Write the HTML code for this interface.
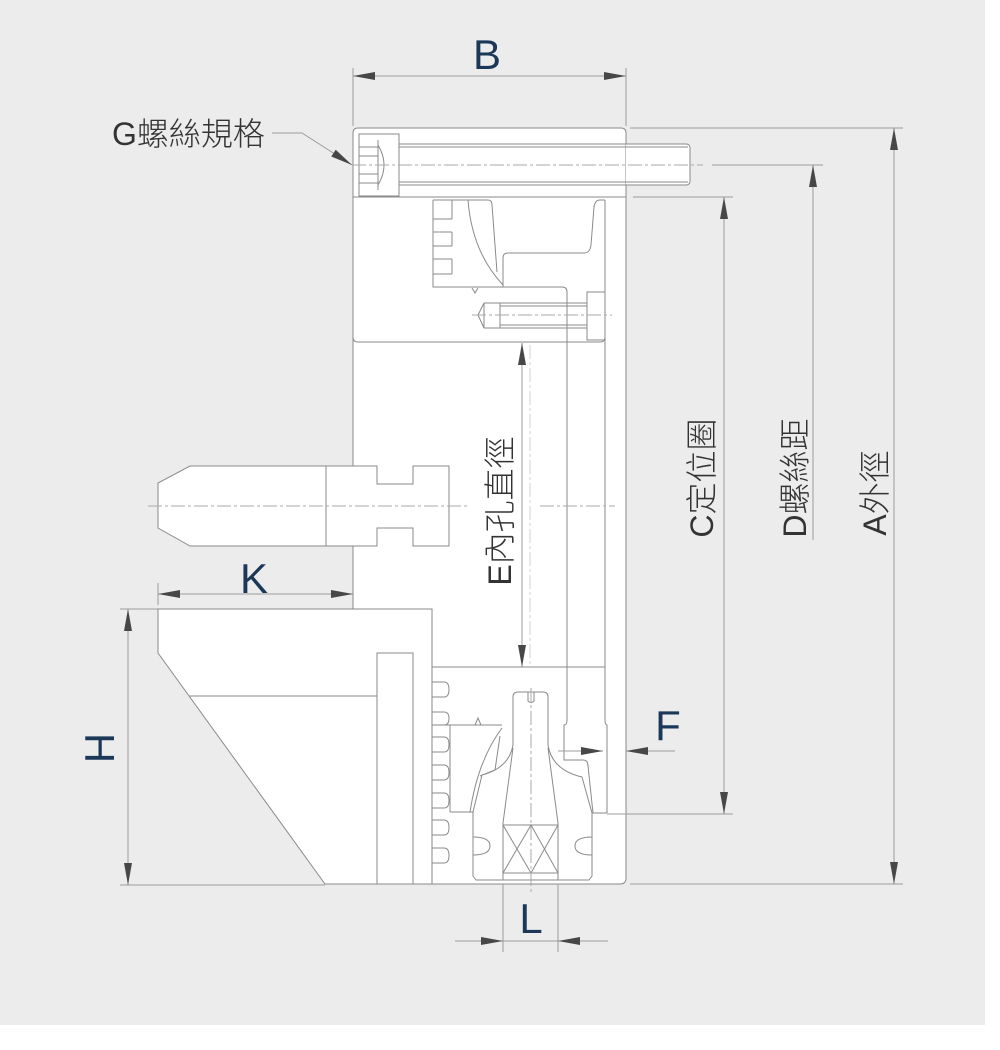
<!DOCTYPE html>
<html><head><meta charset="utf-8"><style>
html,body{margin:0;padding:0;background:#fff;}
svg{display:block;}
.o{fill:none;stroke:#8a8a8a;stroke-width:1}
.w{fill:#fff;stroke:#8a8a8a;stroke-width:1}
.d{fill:none;stroke:#9c9c9c;stroke-width:1}
.c{fill:none;stroke:#aaaaaa;stroke-width:1;stroke-dasharray:14 3 3 3}
.a{fill:#474747}
.lt{font-family:"Liberation Sans",sans-serif;font-size:42px;fill:#1b3858}
.zh{font-family:"Liberation Sans","Noto Sans CJK TC",sans-serif;font-size:32px;font-weight:300;fill:#333}
</style></head><body>
<svg width="1000" height="1050" viewBox="0 0 1000 1050" xmlns="http://www.w3.org/2000/svg">
<rect width="1000" height="1050" fill="#fff"/>
<rect x="0" y="0" width="985" height="1025" fill="#ececec"/>

<!-- main body -->
<path class="w" d="M358,128 H621 Q626,128 626,133 V878 Q626,884 620,884 H358 Q353,884 353,878 V133 Q353,128 358,128 Z"/>
<line class="o" x1="353" y1="197" x2="626" y2="197"/>

<!-- top bolt -->
<rect x="626" y="144" width="64" height="41" fill="#fff"/>
<rect class="o" x="359" y="134" width="40" height="62"/>
<path class="o" d="M359,147 H378 M359,156 H378 M359,174 H378 M359,183 H378 M378,145 Q390,165 378,185 M378,140 V190"/>
<path class="o" d="M399,144 H686 Q690,144 690,148 V181 Q690,185 686,185 H399 M399,147 H688 M399,182 H688"/>
<line class="c" x1="352" y1="165" x2="703" y2="165"/>

<!-- upper jaw block -->
<path class="o" d="M433,200 H488 Q492,200 492,205 L497,272"/>
<path class="o" d="M468,200 Q472,252 503,285"/>
<path class="o" d="M503,287 V258 Q503,253 508,253 H584 Q590,253 591,245 L594,207 Q595,200 600,200 H605"/>
<path class="o" d="M433,200 V287 H562 Q567,287 567,292 V720 Q567,725 564,725 V760 H583 Q588,760 588,766 L593,813 H607"/>
<path class="o" d="M605,200 V720 Q605,725 607,725 V813"/>
<path class="o" d="M452,200 V219 M433,219 H452 M433,232 H452 M452,232 V246 M433,246 H452 M433,259 H452 M452,259 V274 M433,274 H452"/>
<path class="o" d="M472,288 L475,293 L478,288"/>
<!-- small screw -->
<path class="o" d="M484,303 H587 M484,328 H587 M484,303 L478,315 L484,328 Z M500,303 V328 M500,306 H587 M500,325 H587"/>
<rect class="o" x="587" y="292" width="18" height="48"/>
<line class="c" x1="472" y1="315" x2="612" y2="315"/>
<path class="o" d="M353,337 Q353,342 358,342 H600 Q605,342 605,337"/>

<!-- E dimension & faint center -->
<line class="c" x1="530" y1="345" x2="530" y2="667" style="stroke:#d0d0d0"/>
<line class="d" x1="522" y1="343" x2="522" y2="667"/>
<polygon class="a" points="522,343 518,365 526,365"/>
<polygon class="a" points="522,667 518,645 526,645"/>

<!-- lower mechanism -->
<line class="o" x1="432" y1="667" x2="605" y2="667"/>
<path class="o" d="M432,725 H502 M450,812 H473 M450,725 V812"/>
<path class="o" d="M475,725 L478,718 L481,725"/>
<path class="o" d="M502,728 Q478,760 470,812"/>
<path class="o" d="M500,736 L495,770 L480,776"/>
<!-- bolt -->
<path class="w" d="M476,880 L473,876 V812 L482,775 Q509,768 513,745 V697 Q513,692 518,692 H543 Q548,692 548,697 V745 Q552,770 582,777 L592,813 V876 L589,880 Z"/>
<path class="o" d="M528,692 V701 Q531,704 534,701 V692"/>
<path class="o" d="M513,748 L503,823 V880 M548,748 L558,823 V880"/>
<path class="o" d="M473,837 Q490,837 490,846 Q490,855 473,855 M592,837 Q575,837 575,846 Q575,855 592,855"/>
<rect class="o" x="503" y="825" width="55" height="48"/>
<path class="o" d="M503,825 L531,873 L558,825 M503,873 L531,825 L558,873"/>
<line class="o" x1="476" y1="880" x2="589" y2="880"/>
<line class="c" x1="531" y1="688" x2="531" y2="892"/>

<!-- upper pin -->
<path class="w" d="M190,466 H377 V484 H413 V466 H449 V546 H413 V528 H377 V546 H190 L158,528 V483 Z"/>
<line class="o" x1="326" y1="466" x2="326" y2="546"/>
<line class="c" x1="148" y1="506" x2="470" y2="506"/>
<line class="c" x1="540" y1="506" x2="615" y2="506"/>

<!-- lower jaw -->
<path class="w" d="M158,609 H432 V884 H325 L158,653 Z"/>
<line class="o" x1="189" y1="696" x2="377" y2="696"/>
<rect class="o" x="377" y="653" width="36" height="231"/>
<path class="o" d="M432,682 H444 Q449,682 449,689.5 Q449,697 444,697 H432
M432,712 H444 Q449,712 449,718.5 Q449,725 444,725 H432
M432,737 H444 Q449,737 449,744.5 Q449,752 444,752 H432
M432,765 H444 Q449,765 449,772.5 Q449,780 444,780 H432
M432,793 H444 Q449,793 449,800.5 Q449,808 444,808 H432
M432,820 H444 Q449,820 449,827.5 Q449,835 444,835 H432
M432,848 H444 Q449,848 449,855.5 Q449,863 444,863 H432"/>

<!-- B dimension -->
<path class="d" d="M353,68 V126 M626,68 V126 M353,76 H626"/>
<polygon class="a" points="353,76 375,72 375,80"/>
<polygon class="a" points="626,76 604,72 604,80"/>
<text class="lt" x="487" y="69" text-anchor="middle">B</text>

<!-- G leader -->
<path class="d" d="M272,133 H302 L352,165"/>
<polygon class="a" points="352,165 331.3,156.5 335.7,149.7"/>
<text class="zh" x="112" y="145">G螺絲規格</text>

<!-- A dimension -->
<path class="d" d="M630,128 H903 M630,884 H903 M894,128 V884"/>
<polygon class="a" points="894,128 890,150 898,150"/>
<polygon class="a" points="894,884 890,862 898,862"/>
<text class="zh" transform="translate(886,493) rotate(-90)" text-anchor="middle">A外徑</text>

<!-- D dimension -->
<path class="d" d="M712,165 H823 M813,165 V540"/>
<polygon class="a" points="813,165 809,187 817,187"/>
<text class="zh" transform="translate(806,478) rotate(-90)" text-anchor="middle">D螺絲距</text>

<!-- C dimension -->
<path class="d" d="M633,197 H733 M607,814 H733 M724,197 V814"/>
<polygon class="a" points="724,197 720,219 728,219"/>
<polygon class="a" points="724,814 720,792 728,792"/>
<text class="zh" transform="translate(713,478) rotate(-90)" text-anchor="middle">C定位圈</text>

<!-- E label -->
<text class="zh" transform="translate(511,511) rotate(-90)" text-anchor="middle">E內孔直徑</text>

<!-- F dimension -->
<path class="d" d="M558,751 H603 M626,751 H675"/>
<polygon class="a" points="603,751 581,747 581,755"/>
<polygon class="a" points="626,751 648,747 648,755"/>
<text class="lt" x="668" y="740" text-anchor="middle">F</text>

<!-- K dimension -->
<path class="d" d="M158,583 V605 M158,594 H353"/>
<polygon class="a" points="158,594 180,590 180,598"/>
<polygon class="a" points="353,594 331,590 331,598"/>
<text class="lt" x="254" y="593" text-anchor="middle">K</text>

<!-- H dimension -->
<path class="d" d="M120,609 H158 M120,885 H325 M128,609 V885"/>
<polygon class="a" points="128,609 124,631 132,631"/>
<polygon class="a" points="128,885 124,863 132,863"/>
<text class="lt" transform="translate(85,748) rotate(90)" text-anchor="middle">H</text>

<!-- L dimension -->
<path class="d" d="M503,884 V952 M558,884 V952 M455,941 H608"/>
<polygon class="a" points="503,941 481,937 481,945"/>
<polygon class="a" points="558,941 580,937 580,945"/>
<text class="lt" x="531" y="933" text-anchor="middle">L</text>
</svg>
</body></html>
